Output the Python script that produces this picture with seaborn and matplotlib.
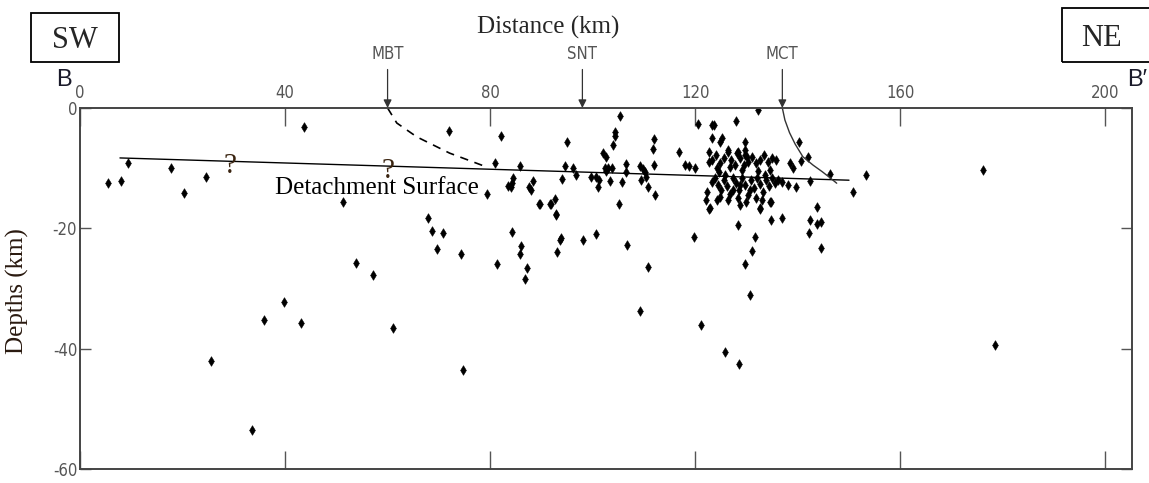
import matplotlib
matplotlib.use("Agg")
import matplotlib.pyplot as plt
from matplotlib.patches import Rectangle
import pandas as pd
import seaborn as sns

# hypocentres: distance along profile (km), depth (km)
distance = [
    5.5, 8.0, 9.4, 17.7, 20.3, 24.5, 43.7, 51.3, 53.8, 57.2,
    25.5, 33.5, 35.9, 39.8, 43.1, 61.1, 67.8, 68.7, 70.8, 69.7,
    74.3, 74.7, 81.3, 84.2, 86.1, 85.9, 87.1, 86.9, 89.7, 91.8,
    92.8, 93.9, 93.6, 93.0, 98.1, 100.7, 105.2, 106.7, 110.8, 109.2,
    119.7, 121.2, 125.8, 128.6, 130.7, 129.7, 131.1, 131.7, 128.4, 134.8,
    137.0, 122.7, 132.6, 134.7,
    153.4, 150.8, 176.1, 178.4, 143.8, 142.3, 143.8, 144.6, 142.2, 144.5,
    146.3, 142.0, 140.7, 142.3,
    105.3, 104.3, 104.3, 103.9, 82.1, 94.9, 111.9, 111.7, 116.9, 102.0,
    102.7, 80.9, 85.8, 94.6, 96.1, 96.8, 94.1, 99.6, 100.7, 101.1,
    102.4, 102.9, 103.7, 102.6, 103.4, 105.8, 106.5, 106.5, 109.2, 109.8,
    110.2, 109.5, 110.5, 110.8, 111.9, 112.1, 118.0, 118.8, 119.9, 120.6,
    83.5, 84.2, 84.5, 84.0, 87.6, 87.9, 88.4, 79.4, 89.6, 91.7,
    92.6, 92.8, 101.3, 72.0,
    132.3, 123.2, 123.7, 127.9, 123.2, 124.8, 125.3, 129.8, 122.7, 122.7,
    126.4, 128.4, 129.7, 138.5, 139.1, 140.2, 139.7, 122.2, 128.7,
    123.2, 124.0, 124.8, 125.6, 126.4, 126.9, 127.7, 128.7, 129.7, 130.3,
    131.0, 131.8, 132.6, 133.4, 134.2, 134.9, 135.7, 129.5, 126.8, 124.2,
    128.1, 130.1,
    123.8, 124.4, 125.0, 125.6, 126.2, 126.8, 127.3, 127.9, 128.5, 129.1,
    129.7, 130.3, 130.9, 131.4, 132.0, 132.6, 133.2, 133.8, 134.4, 134.9,
    135.5, 136.1, 123.2, 124.8, 126.4, 128.3, 129.9, 131.8, 133.0, 128.7,
    127.3, 130.7, 125.8, 133.6, 136.9, 138.1, 122.3, 124.2, 122.9, 132.6,
    134.6, 124.6, 129.1, 132.2, 134.6,
]
depth = [
    -12.4, -12.1, -9.2, -10.0, -14.2, -11.5, -3.2, -15.6, -25.7, -27.7,
    -42.0, -53.5, -35.2, -32.3, -35.8, -36.6, -18.3, -20.4, -20.7, -23.4,
    -24.3, -43.5, -26.0, -20.6, -23.0, -24.3, -26.6, -28.4, -15.9, -15.9,
    -17.7, -21.6, -21.9, -24.0, -21.9, -21.0, -15.9, -22.8, -26.4, -33.7,
    -21.5, -36.1, -40.5, -42.6, -31.1, -26.0, -23.7, -21.5, -19.5, -18.6,
    -18.3, -16.8, -16.8, -15.7,
    -11.2, -13.9, -10.3, -39.4, -16.5, -18.6, -19.3, -18.9, -20.7, -23.3,
    -10.9, -8.2, -8.8, -12.1,
    -1.4, -4.0, -4.7, -6.1, -4.7, -5.6, -5.2, -6.8, -7.3, -7.4,
    -8.2, -9.1, -9.6, -9.6, -9.9, -11.1, -11.8, -11.4, -11.5, -13.2,
    -10.0, -10.0, -10.0, -10.4, -12.2, -12.3, -9.3, -10.6, -9.7, -10.1,
    -10.6, -12.0, -11.5, -13.1, -9.5, -14.5, -9.5, -9.7, -10.0, -2.7,
    -13.0, -12.4, -11.7, -13.2, -13.2, -13.7, -12.1, -14.3, -15.9, -15.9,
    -15.1, -17.8, -12.0, -3.8,
    -0.3, -2.8, -2.8, -2.1, -5.0, -5.6, -5.0, -5.6, -7.3, -8.9,
    -7.0, -7.3, -7.8, -9.2, -10.0, -5.6, -13.1, -15.3, -16.1,
    -8.6, -7.8, -9.1, -8.3, -7.3, -8.6, -9.5, -8.3, -7.0, -9.0,
    -8.1, -9.1, -8.6, -7.8, -9.0, -8.3, -8.6, -9.5, -9.8, -10.0,
    -7.5, -8.1,
    -11.6, -12.8, -13.6, -12.0, -12.9, -14.3, -11.6, -12.4, -13.6, -11.6,
    -12.8, -14.4, -12.0, -13.3, -11.6, -12.6, -13.9, -12.0, -12.9, -11.6,
    -12.4, -12.0, -12.3, -14.8, -15.3, -14.9, -15.6, -14.9, -15.3, -12.8,
    -13.6, -13.6, -11.1, -11.1, -12.3, -12.8, -13.9, -15.3, -16.6, -16.6,
    -15.6, -10.6, -10.3, -10.5, -10.3,
]

# interpreted structures
detach_x = [7.8, 150.0]
detach_y = [-8.3, -12.0]
mbt_x = [60.0, 61.8, 65.7, 72.1, 79.3]
mbt_y = [0.0, -2.5, -4.8, -7.5, -9.8]
mct_x = [137.0, 137.5, 138.4, 139.5, 141.0, 143.0, 144.8, 146.3, 147.6]
mct_y = [0.0, -2.0, -4.1, -6.0, -8.1, -9.5, -10.6, -11.6, -12.5]

faults = ["MBT", "SNT", "MCT"]
fault_pos = [60, 98, 137]

xticks = [0, 40, 80, 120, 160, 200]
yticks = [0, -20, -40, -60]
ytick_labels = ["0", "-20", "-40", "-60"]

sns.set_style("white")
plt.rcParams["axes.unicode_minus"] = False
serif = ["Liberation Serif", "DejaVu Serif"]
narrow = ["DejaVu Sans"]
tick_grey = "#555555"

df = pd.DataFrame({"Distance": distance, "Depth": depth})

fig = plt.figure(figsize=(11.49, 4.83), dpi=100)
ax = fig.add_axes([0.0696, 0.029, 0.9156, 0.7474])

sns.lineplot(x=detach_x, y=detach_y, color="black", lw=1.0, sort=False,
             estimator=None, ax=ax)
sns.lineplot(x=mbt_x, y=mbt_y, color="black", lw=1.2, sort=False,
             estimator=None, linestyle=(0, (5, 4)), ax=ax)
sns.lineplot(x=mct_x, y=mct_y, color="#333333", lw=1.0, sort=False,
             estimator=None, ax=ax)
sns.scatterplot(data=df, x="Distance", y="Depth", marker="d", s=24,
                color="black", edgecolor="black", linewidth=0.4, ax=ax)

ax.set_xlim(0, 205.2)
ax.set_ylim(-60, 0)
ax.set_xticks(xticks)
ax.set_yticks(yticks)
ax.set_yticklabels(ytick_labels)
ax.set_xlabel("")
ax.set_ylabel("")
ax.tick_params(axis="x", top=True, bottom=True, labeltop=True, labelbottom=False,
               direction="in", length=13, width=1, color=tick_grey,
               labelcolor=tick_grey, labelsize=12, pad=4)
ax.tick_params(axis="y", left=True, right=True, direction="in", length=8,
               width=1, color=tick_grey, labelcolor=tick_grey, labelsize=12, pad=2)
for lab in ax.get_xticklabels() + ax.get_yticklabels():
    lab.set_family(narrow)
    lab.set_stretch("condensed")
for sp in ax.spines.values():
    sp.set_color("#444444")
    sp.set_linewidth(1.4)

# fault arrows and labels
for name, xp in zip(faults, fault_pos):
    ax.annotate("", xy=(xp, 0), xytext=(xp, 6.4), annotation_clip=False,
                arrowprops=dict(arrowstyle="-|>", color="#333333", lw=0.9,
                                mutation_scale=12, shrinkA=0, shrinkB=0))
    ax.text(xp, 8.9, name, ha="center", va="center", fontsize=12,
            color=tick_grey, family=narrow, stretch="condensed", clip_on=False)

ax.text(38, -13.3, "Detachment Surface", ha="left", va="center", fontsize=18,
        family=serif, color="black")
ax.text(29.2, -9.6, "?", ha="center", va="center", fontsize=21, family=serif,
        color="#3a2410")
ax.text(60, -10.4, "?", ha="center", va="center", fontsize=21, family=serif,
        color="#3a2410")

W, H = 1149, 483
fig.text(548 / W, 1 - 27 / H, "Distance (km)", ha="center", va="center",
         fontsize=18, family=serif)
fig.text(17 / W, 1 - 291 / H, "Depths (km)", ha="center", va="center",
         rotation=90, fontsize=18, family=serif, color="#2a1a10")
fig.text(64 / W, 1 - 80 / H, "B", ha="center", va="center", fontsize=17,
         family=["Liberation Sans", "DejaVu Sans"], color="#1a1a2a")
fig.text(1137 / W, 1 - 80 / H, "B\u2032", ha="center", va="center", fontsize=17,
         family=["Liberation Sans", "DejaVu Sans"], color="#1a1a2a")

fig.add_artist(Rectangle((31 / W, 1 - 62 / H), 88 / W, 49 / H,
                         transform=fig.transFigure, fill=False, lw=1.3,
                         edgecolor="black"))
fig.text(75 / W, 1 - 40 / H, "SW", ha="center", va="center", fontsize=22,
         family=serif)
fig.add_artist(Rectangle((1062 / W, 1 - 62 / H), 100 / W, 54 / H,
                         transform=fig.transFigure, fill=False, lw=1.3,
                         edgecolor="black", clip_on=False))
fig.text(1101 / W, 1 - 38 / H, "NE", ha="center", va="center", fontsize=22,
         family=serif)

fig.savefig("out.png", dpi=100)
